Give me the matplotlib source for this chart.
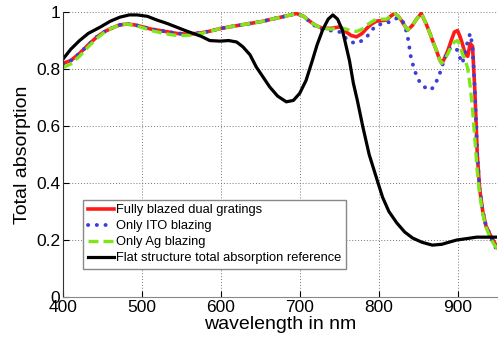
import matplotlib
matplotlib.use("Agg")
import matplotlib.pyplot as plt

plt.rcParams["font.family"] = ["Liberation Sans", "DejaVu Sans"]

# Fully blazed dual gratings
red_wl = [400, 410, 421, 432, 443, 453, 463, 472, 481, 491, 501, 512, 523, 534, 544, 555, 565, 575,
          586, 599, 615, 637, 652, 666, 681, 696, 705, 713, 721, 729, 740, 751, 759, 765, 772, 779,
          785, 791, 797, 804, 810, 815, 820, 825, 829, 833, 837, 843, 848, 854, 860, 865, 869, 873,
          877, 880, 884, 888, 892, 896, 900, 903, 906, 910, 913, 916, 919, 922, 925, 928, 932, 936,
          941, 945, 950]
red_abs = [0.82, 0.83, 0.855, 0.885, 0.913, 0.932, 0.945, 0.955, 0.958, 0.955, 0.948, 0.94, 0.935,
           0.93, 0.925, 0.923, 0.924, 0.927, 0.933, 0.942, 0.95, 0.96, 0.967, 0.976, 0.985, 0.995,
           0.985, 0.967, 0.952, 0.943, 0.943, 0.948, 0.93, 0.918, 0.913, 0.925, 0.943, 0.958, 0.968,
           0.97, 0.972, 0.985, 0.995, 0.985, 0.97, 0.952, 0.937, 0.954, 0.975, 0.995, 0.96, 0.925,
           0.895, 0.867, 0.835, 0.82, 0.84, 0.867, 0.9, 0.93, 0.935, 0.915, 0.89, 0.85, 0.845, 0.89,
           0.88, 0.72, 0.5, 0.38, 0.3, 0.25, 0.22, 0.2, 0.175]

# Only ITO blazing
blue_wl = [400, 410, 421, 432, 443, 453, 463, 472, 481, 491, 501, 512, 523, 534, 544, 555, 565, 575,
           586, 599, 615, 637, 652, 666, 681, 696, 705, 713, 721, 729, 740, 751, 759, 765, 772, 779,
           785, 791, 797, 804, 810, 815, 820, 825, 829, 833, 837, 841, 845, 849, 853, 858, 865, 869,
           873, 877, 880, 884, 888, 892, 896, 900, 903, 906, 909, 913, 916, 919, 922, 925, 928, 932,
           936, 941, 945, 950]
blue_abs = [0.818, 0.83, 0.855, 0.885, 0.913, 0.932, 0.945, 0.955, 0.958, 0.955, 0.948, 0.94, 0.935,
            0.93, 0.925, 0.923, 0.924, 0.927, 0.933, 0.942, 0.95, 0.96, 0.967, 0.976, 0.985, 0.995,
            0.985, 0.965, 0.948, 0.938, 0.935, 0.93, 0.907, 0.895, 0.89, 0.9, 0.913, 0.935, 0.954,
            0.958, 0.96, 0.968, 0.977, 0.978, 0.975, 0.955, 0.91, 0.84, 0.8, 0.77, 0.75, 0.737, 0.726,
            0.735, 0.755, 0.78, 0.807, 0.84, 0.867, 0.875, 0.877, 0.865, 0.84, 0.82, 0.85, 0.9, 0.925,
            0.88, 0.72, 0.5, 0.38, 0.3, 0.25, 0.22, 0.19, 0.165]

# Only Ag blazing
green_wl = [400, 410, 421, 432, 443, 453, 463, 472, 481, 491, 501, 512, 523, 534, 544, 555, 565, 575,
            586, 599, 615, 637, 652, 666, 681, 696, 705, 713, 721, 729, 740, 751, 759, 765, 772, 779,
            785, 791, 797, 804, 810, 815, 820, 825, 829, 833, 837, 843, 848, 854, 860, 865, 869, 873,
            877, 880, 884, 888, 892, 896, 900, 903, 906, 910, 913, 916, 919, 922, 925, 928, 932, 936,
            941, 945, 950]
green_abs = [0.805, 0.818, 0.845, 0.878, 0.908, 0.93, 0.945, 0.955, 0.958, 0.953, 0.945, 0.935, 0.928,
             0.922, 0.918, 0.918, 0.92, 0.925, 0.932, 0.942, 0.95, 0.96, 0.967, 0.976, 0.985, 0.995,
             0.985, 0.967, 0.952, 0.943, 0.94, 0.945, 0.94, 0.935, 0.932, 0.94, 0.955, 0.965, 0.975,
             0.975, 0.975, 0.985, 0.995, 0.985, 0.97, 0.952, 0.937, 0.954, 0.975, 0.995, 0.96, 0.925,
             0.895, 0.867, 0.835, 0.82, 0.835, 0.855, 0.88, 0.895, 0.9, 0.885, 0.855, 0.83, 0.8, 0.74,
             0.66, 0.55, 0.44, 0.36, 0.29, 0.245, 0.21, 0.19, 0.17]

# Flat structure reference
black_wl = [400, 410, 421, 432, 447, 460, 472, 484, 494, 507, 519, 532, 544, 555, 565, 575, 586, 599,
            610, 620, 628, 637, 645, 654, 662, 672, 683, 692, 700, 708, 716, 722, 729, 736, 742, 748,
            754, 758, 763, 768, 773, 780, 788, 797, 805, 813, 823, 833, 843, 855, 868, 880, 890, 899,
            912, 924, 936, 950]
black_abs = [0.835, 0.87, 0.9, 0.925, 0.947, 0.968, 0.982, 0.99, 0.99, 0.985, 0.972, 0.96, 0.947,
             0.935, 0.925, 0.915, 0.9, 0.898, 0.9, 0.895, 0.878, 0.85, 0.807, 0.77, 0.737, 0.705,
             0.685, 0.69, 0.715, 0.76, 0.83, 0.885, 0.937, 0.975, 0.99, 0.975, 0.937, 0.89, 0.83,
             0.75, 0.69, 0.597, 0.5, 0.42, 0.35, 0.3, 0.26, 0.228, 0.207, 0.192, 0.182, 0.185, 0.193,
             0.2, 0.205, 0.21, 0.21, 0.21]

labels = ["Fully blazed dual gratings", "Only ITO blazing", "Only Ag blazing",
          "Flat structure total absorption reference"]
x_ticks = [400, 500, 600, 700, 800, 900]
y_ticks = [0, 0.2, 0.4, 0.6, 0.8, 1]
y_tick_labels = ["0", "0.2", "0.4", "0.6", "0.8", "1"]

fig = plt.figure(figsize=(4.98, 3.4), dpi=100)
ax = fig.add_axes([0.1265, 0.1265, 0.8715, 0.838])

ax.plot(red_wl, red_abs, color="#ff1a1a", lw=2.6, label=labels[0])
ax.plot(blue_wl, blue_abs, color="#3d3ddb", lw=2.8, ls=(0, (0.05, 2.2)),
        dash_capstyle="round", label=labels[1])
ax.plot(green_wl, green_abs, color="#80e61a", lw=2.4, ls=(0, (3, 1.5)), label=labels[2])
ax.plot(black_wl, black_abs, color="black", lw=2.3, label=labels[3])

ax.set_xlim(400, 950)
ax.set_ylim(0, 1)
ax.set_xticks(x_ticks)
ax.set_yticks(y_ticks)
ax.set_yticklabels(y_tick_labels)
ax.tick_params(direction="in", labelsize=12.5, length=4, pad=2)
ax.grid(True, ls=(0, (1, 2)), color="#777777", lw=0.7)
ax.spines["top"].set_visible(False)
ax.spines["right"].set_visible(False)
ax.spines["left"].set_color("#333333")
ax.spines["bottom"].set_color("#888888")

ax.set_xlabel("wavelength in nm", fontsize=14, labelpad=1)
ax.set_ylabel("Total absorption", fontsize=14, labelpad=4)

leg = ax.legend(loc="lower left", bbox_to_anchor=(0.032, 0.077), fontsize=9.3, handlelength=2.0,
                handletextpad=0.2, borderpad=0.35, labelspacing=0.3, fancybox=False,
                framealpha=1, edgecolor="#888888")
leg.get_frame().set_linewidth(1.0)

fig.savefig("out.png", dpi=100)
